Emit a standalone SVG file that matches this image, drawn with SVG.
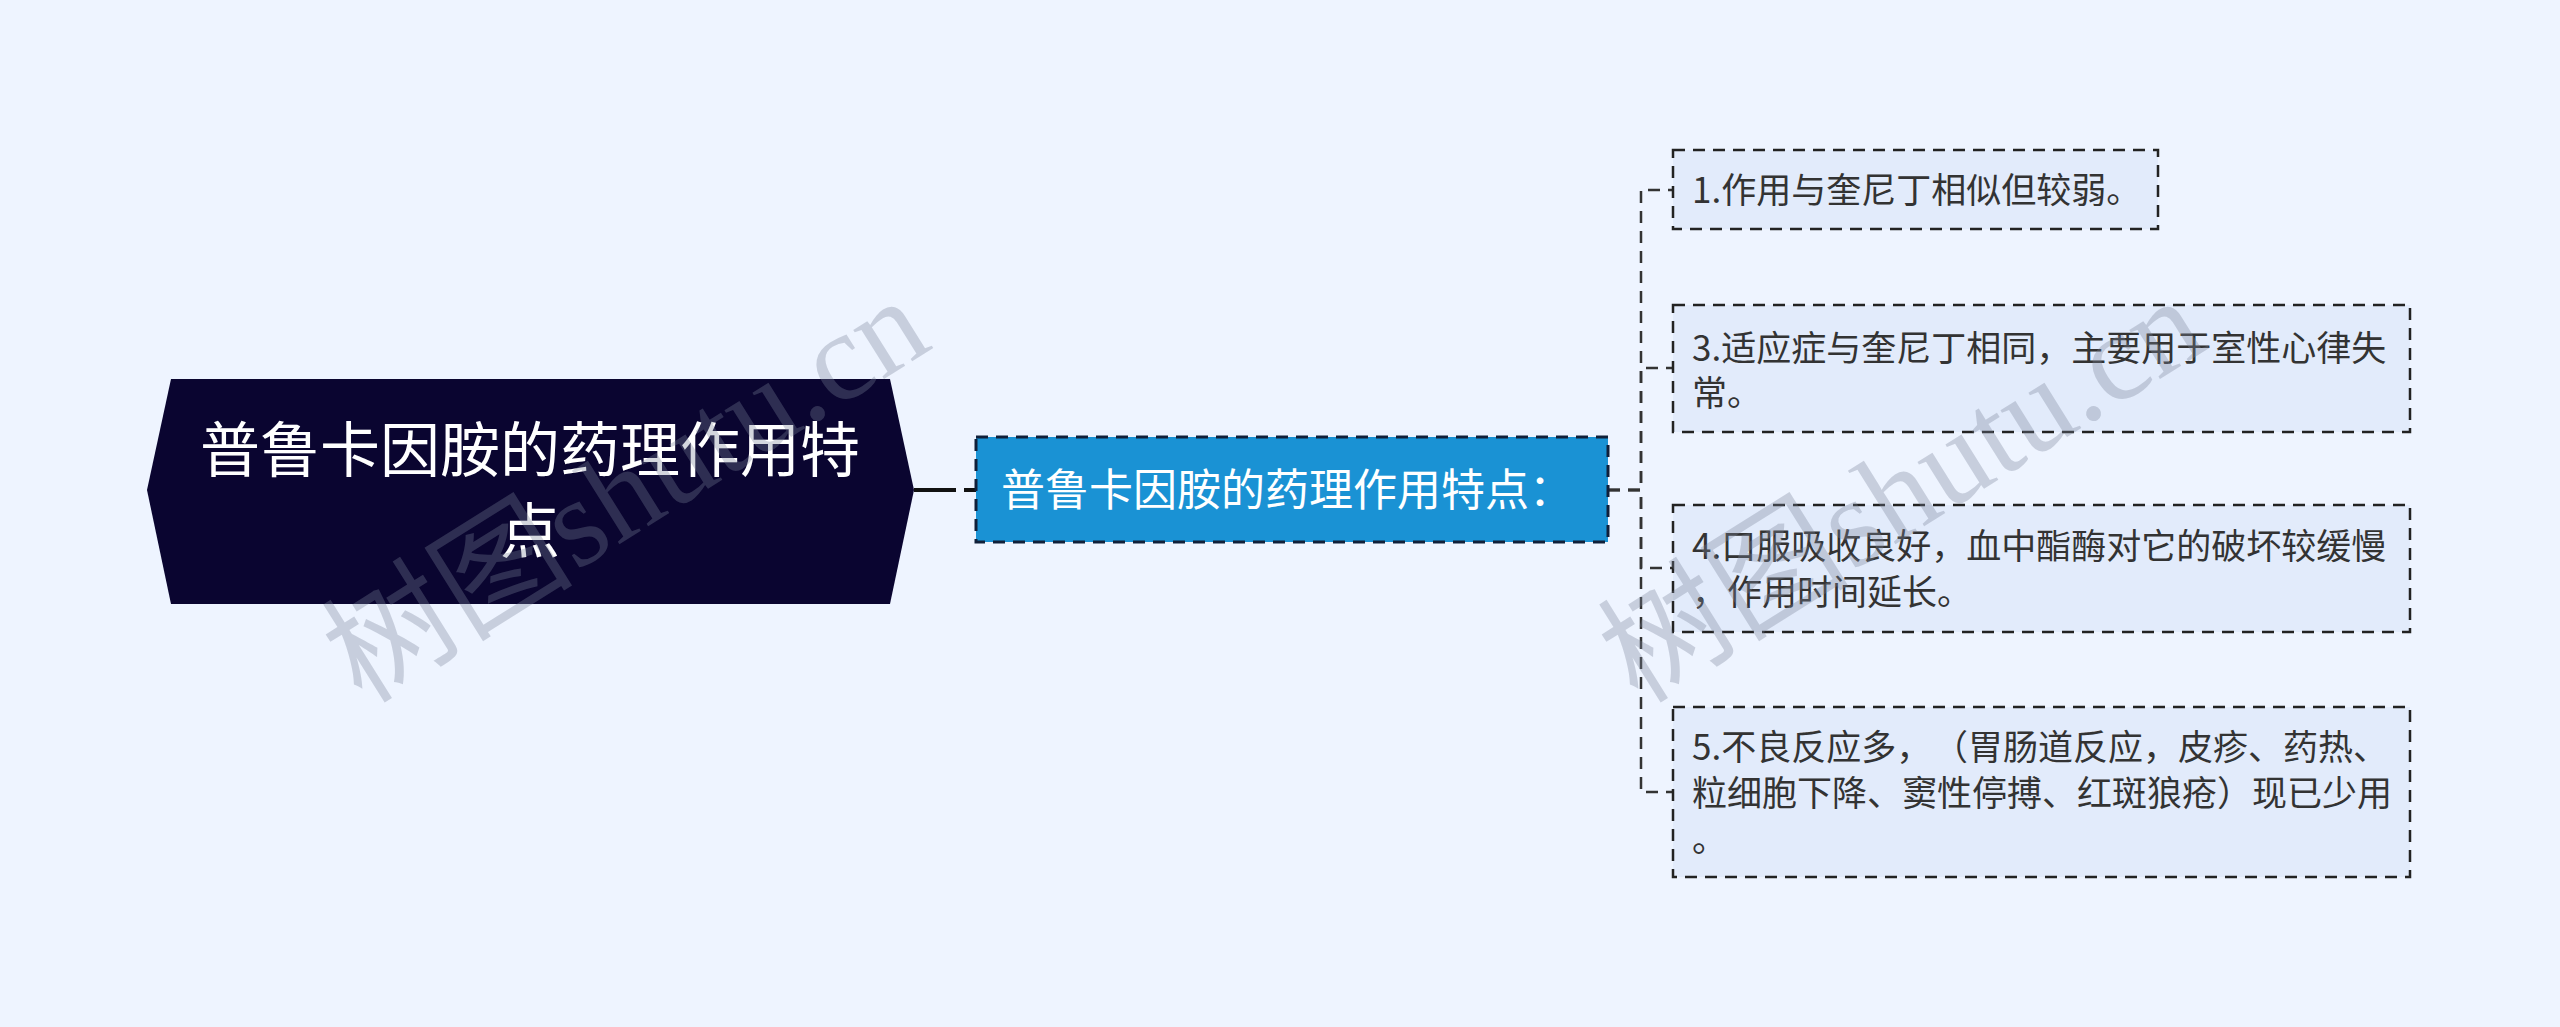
<svg xmlns="http://www.w3.org/2000/svg" width="2560" height="1027" viewBox="0 0 2560 1027">
<style>
.leaf rect{fill:#e2ebfb;stroke:#222;stroke-width:2.5;stroke-dasharray:12 8}
.leaf text{font-family:"Noto Sans CJK SC","Noto Sans",sans-serif;font-size:35px;fill:#333}
.conn{fill:none;stroke:#333;stroke-width:2.5;stroke-dasharray:12 8}
.wm{font-family:"Liberation Serif","Noto Sans CJK SC",serif;font-size:126px;fill:#7a8499;fill-opacity:0.33}
</style>
<rect width="2560" height="1027" fill="#eef4ff"/>
<g id="connectors">
<path d="M914 490 H956" stroke="#111" stroke-width="4" fill="none"/>
<path d="M964 490 H976" stroke="#111" stroke-width="4" fill="none"/>
<path class="conn" d="M1608 490 H1641 V190 H1673"/>
<path class="conn" d="M1608 490 H1641 V368 H1673"/>
<path class="conn" d="M1608 490 H1641 V568 H1673"/>
<path class="conn" d="M1608 490 H1641 V792 H1673"/>
</g>
<g id="root">
<polygon points="171,379 890,379 914,490 890,604 171,604 147,490" fill="#0a0530"/>
<text x="530" y="472" text-anchor="middle" font-family="Noto Sans CJK SC,sans-serif" font-size="60" fill="#fff">普鲁卡因胺的药理作用特</text>
<text x="530" y="553" text-anchor="middle" font-family="Noto Sans CJK SC,sans-serif" font-size="60" fill="#fff">点</text>
</g>
<g id="middle">
<rect x="976" y="437" width="632" height="105" fill="#1a92d4" stroke="#10203a" stroke-width="3" stroke-dasharray="12 8"/>
<text x="1001" y="506" font-family="Noto Sans CJK SC,sans-serif" font-size="44" fill="#fff">普鲁卡因胺的药理作用特点：</text>
</g>
<g id="leaf1" class="leaf">
<rect x="1673" y="150" width="485" height="79"/>
<text x="1692" y="203">1.作用与奎尼丁相似但较弱。</text>
</g>
<g id="leaf3" class="leaf">
<rect x="1673" y="305" width="737" height="127"/>
<text x="1692" y="361">3.适应症与奎尼丁相同，主要用于室性心律失</text>
<text x="1692" y="406">常。</text>
</g>
<g id="leaf4" class="leaf">
<rect x="1673" y="505" width="737" height="127"/>
<text x="1692" y="559">4.口服吸收良好，血中酯酶对它的破坏较缓慢</text>
<text x="1692" y="605">，作用时间延长。</text>
</g>
<g id="leaf5" class="leaf">
<rect x="1673" y="707" width="737" height="170"/>
<text x="1692" y="760">5.不良反应多，<tspan x="1933">（胃肠道反应，皮疹、药热、</tspan></text>
<text x="1692" y="806">粒细胞下降、窦性停搏、红斑狼疮）现已少用</text>
<text x="1692" y="852">。</text>
</g>
<g id="watermarks">
<text class="wm" transform="translate(362,705) rotate(-32)">树图shutu.cn</text>
<text class="wm" transform="translate(1638,705) rotate(-32)">树图shutu.cn</text>
</g>
</svg>
